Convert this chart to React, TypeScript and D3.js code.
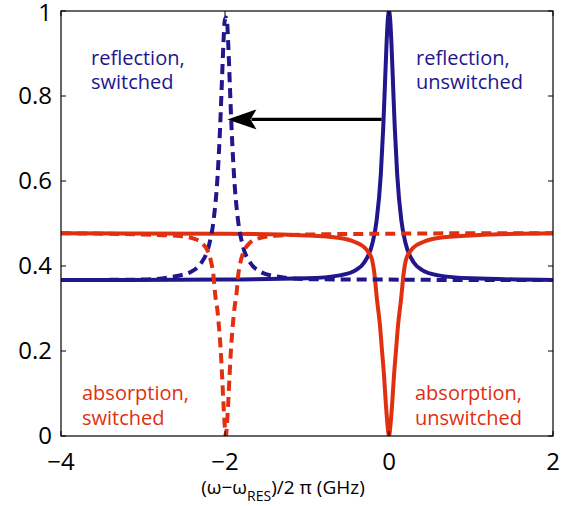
import * as d3 from "d3";

// reflection, unswitched (blue solid)
const reflUnswX = [-4, -2, -1, -0.6, -0.4, -0.3, -0.2, -0.15, -0.1, -0.07, -0.05, -0.03, -0.015, 0, 0.015, 0.03, 0.05, 0.07, 0.1, 0.15, 0.2, 0.3, 0.4, 0.6, 1, 2];
const reflUnswY = [0.367, 0.368, 0.371, 0.378, 0.391, 0.409, 0.455, 0.508, 0.615, 0.727, 0.824, 0.923, 0.978, 1.0, 0.978, 0.923, 0.824, 0.727, 0.615, 0.508, 0.455, 0.409, 0.391, 0.378, 0.371, 0.367];

// reflection, switched (blue dashed)
const reflSwX = [-4, -3, -2.6, -2.39, -2.29, -2.19, -2.14, -2.09, -2.06, -2.04, -2.02, -2.005, -1.99, -1.975, -1.96, -1.94, -1.92, -1.89, -1.84, -1.79, -1.69, -1.59, -1.39, -0.99, 0, 1, 2];
const reflSwY = [0.367, 0.368, 0.376, 0.389, 0.407, 0.453, 0.506, 0.613, 0.725, 0.822, 0.92, 0.975, 0.985, 0.975, 0.92, 0.822, 0.725, 0.613, 0.506, 0.453, 0.407, 0.389, 0.376, 0.369, 0.368, 0.367, 0.367];

// absorption, unswitched (red solid)
const absUnswX = [-4, -2, -1, -0.6, -0.41, -0.3, -0.25, -0.207, -0.18, -0.146, -0.11, -0.085, -0.06, -0.04, -0.02, 0, 0.02, 0.04, 0.06, 0.085, 0.11, 0.146, 0.18, 0.207, 0.25, 0.3, 0.41, 0.6, 1, 2];
const absUnswY = [0.477, 0.476, 0.472, 0.466, 0.456, 0.444, 0.432, 0.415, 0.385, 0.32, 0.26, 0.2, 0.14, 0.08, 0.03, 0, 0.03, 0.08, 0.14, 0.2, 0.26, 0.32, 0.385, 0.415, 0.432, 0.444, 0.456, 0.466, 0.472, 0.477];

// absorption, switched (red dashed)
const absSwX = [-4, -2.99, -2.59, -2.39, -2.27, -2.21, -2.17, -2.142, -2.118, -2.095, -2.075, -2.055, -2.035, -2.02, -2.005, -1.99, -1.975, -1.96, -1.945, -1.925, -1.905, -1.885, -1.862, -1.838, -1.81, -1.77, -1.71, -1.59, -1.39, -0.99, 0, 1, 2];
const absSwY = [0.477, 0.474, 0.471, 0.465, 0.452, 0.435, 0.41, 0.38, 0.33, 0.3, 0.26, 0.21, 0.14, 0.08, 0.03, 0, 0.03, 0.08, 0.14, 0.21, 0.26, 0.3, 0.33, 0.38, 0.41, 0.435, 0.452, 0.465, 0.471, 0.474, 0.476, 0.477, 0.477];

const xTicks = [-4, -2, 0, 2];
const xTickLabels = ["\u22124", "\u22122", "0", "2"];
const yTicks = [0, 0.2, 0.4, 0.6, 0.8, 1];
const yTickLabels = ["0", "0.2", "0.4", "0.6", "0.8", "1"];

// arrow: from the unswitched peak to the switched one
const arrowFrom = [-0.09, 0.745];
const arrowTo = [-1.97, 0.745];

const BLUE = "#21168c";
const RED = "#e0300f";
const FONT = "'Open Sans', 'Noto Sans', sans-serif";

const W = 574;
const H = 506;
const m = { left: 61, right: 21, top: 11, bottom: 70 };

export default function App() {
  const x = d3.scaleLinear().domain([-4, 2]).range([m.left, W - m.right]);
  const y = d3.scaleLinear().domain([0, 1]).range([H - m.bottom, m.top]);

  const line = d3
    .line<[number, number]>()
    .x((d) => x(d[0]))
    .y((d) => y(d[1]))
    .curve(d3.curveMonotoneX);

  const zip = (xs: number[], ys: number[]) => xs.map((v, i) => [v, ys[i]] as [number, number]);

  const series = [
    { d: zip(reflUnswX, reflUnswY), color: BLUE, dash: undefined },
    { d: zip(absUnswX, absUnswY), color: RED, dash: undefined },
    { d: zip(reflSwX, reflSwY), color: BLUE, dash: "10,6" },
    { d: zip(absSwX, absSwY), color: RED, dash: "10,6" },
  ];

  const [x0, y0] = [x(arrowFrom[0]), y(arrowFrom[1])];
  const [x1, y1] = [x(arrowTo[0]), y(arrowTo[1])];

  return (
    <svg width={W} height={H} style={{ position: "absolute", left: 0, top: 0, background: "#fff" }} fontFamily={FONT}>
      <defs>
        <clipPath id="plot">
          <rect x={m.left} y={m.top} width={W - m.left - m.right} height={H - m.top - m.bottom} />
        </clipPath>
      </defs>

      <g clipPath="url(#plot)">
        {series.map((s, i) => (
          <path key={i} d={line(s.d) ?? ""} fill="none" stroke={s.color} strokeWidth={4} strokeDasharray={s.dash} strokeLinejoin="round" />
        ))}
      </g>

      {/* arrow */}
      <line x1={x0} y1={y0} x2={x1 + 24} y2={y1} stroke="#000" strokeWidth={3.4} />
      <path d={`M${x1},${y1} L${x1 + 29},${y1 - 10} L${x1 + 23},${y1} L${x1 + 29},${y1 + 10} Z`} fill="#000" />

      {/* frame */}
      <rect x={m.left} y={m.top} width={W - m.left - m.right} height={H - m.top - m.bottom} fill="none" stroke="#000" strokeWidth={1.2} />

      {/* ticks */}
      {xTicks.map((t, i) => (
        <g key={"x" + i}>
          <line x1={x(t)} x2={x(t)} y1={y(0)} y2={y(0) - 5} stroke="#000" />
          <line x1={x(t)} x2={x(t)} y1={y(1)} y2={y(1) + 5} stroke="#000" />
          <text x={x(t)} y={470} textAnchor="middle" fontSize={24}>
            {xTickLabels[i]}
          </text>
        </g>
      ))}
      {yTicks.map((t, i) => (
        <g key={"y" + i}>
          <line x1={m.left} x2={m.left + 5} y1={y(t)} y2={y(t)} stroke="#000" />
          <line x1={W - m.right} x2={W - m.right - 5} y1={y(t)} y2={y(t)} stroke="#000" />
          <text x={52} y={y(t) + (t === 1 ? 2 : 0)} dy="0.35em" textAnchor="end" fontSize={24}>
            {yTickLabels[i]}
          </text>
        </g>
      ))}

      {/* axis title */}
      <text x={283} y={494} textAnchor="middle" fontSize={19}>
        (ω−ω<tspan fontSize={14} dy={7}>RES</tspan>
        <tspan dy={-7}>)/2 π (GHz)</tspan>
      </text>

      {/* labels */}
      <text fill={BLUE} fontSize={20}>
        <tspan x={91} y={65}>reflection,</tspan>
        <tspan x={91} y={89}>switched</tspan>
      </text>
      <text fill={BLUE} fontSize={20}>
        <tspan x={416} y={65}>reflection,</tspan>
        <tspan x={416} y={89}>unswitched</tspan>
      </text>
      <text fill={RED} fontSize={20}>
        <tspan x={82} y={400}>absorption,</tspan>
        <tspan x={82} y={425}>switched</tspan>
      </text>
      <text fill={RED} fontSize={20}>
        <tspan x={415} y={400}>absorption,</tspan>
        <tspan x={415} y={425}>unswitched</tspan>
      </text>
    </svg>
  );
}
